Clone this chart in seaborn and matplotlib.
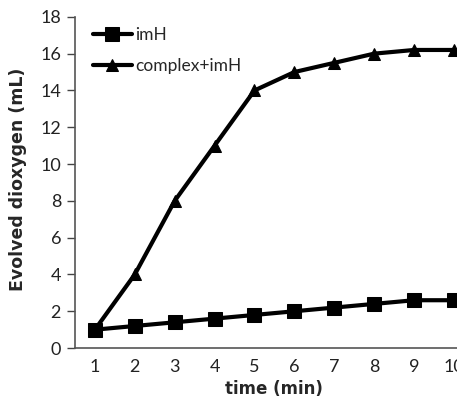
import matplotlib
matplotlib.use("Agg")
import matplotlib.pyplot as plt
import seaborn as sns
import pandas as pd

time_min = [1, 2, 3, 4, 5, 6, 7, 8, 9, 10]
imH = [1.0, 1.2, 1.4, 1.6, 1.8, 2.0, 2.2, 2.4, 2.6, 2.6]
complex_imH = [1.0, 4.0, 8.0, 11.0, 14.0, 15.0, 15.5, 16.0, 16.2, 16.2]
series_names = ["imH", "complex+imH"]
y_ticks = [0, 2, 4, 6, 8, 10, 12, 14, 16, 18]

df = pd.DataFrame({
    "time": time_min * 2,
    "value": imH + complex_imH,
    "series": [series_names[0]] * len(time_min) + [series_names[1]] * len(time_min),
})

sns.set_style("white")
plt.rcParams["font.family"] = ["Lato", "DejaVu Sans"]

fig = plt.figure(figsize=(4.57, 4.01), dpi=100)
ax = fig.add_axes([0.164, 0.132, 0.873, 0.826])

sns.lineplot(data=df, x="time", y="value", hue="series", style="series",
             markers={"imH": "s", "complex+imH": "^"}, dashes=False,
             palette={"imH": "black", "complex+imH": "black"},
             linewidth=3.0, markersize=10, markeredgecolor="black", ax=ax)
for line in ax.lines:
    if line.get_marker() == "^":
        line.set_markersize(8.5)

ax.set_xlim(0.5, 10.5)
ax.set_ylim(0, 18)
ax.set_xticks(time_min)
ax.set_yticks(y_ticks)
ax.tick_params(axis="y", direction="out", length=6, width=1, colors="#444444",
               labelsize=13, labelcolor="#222222", left=True, pad=4)
ax.tick_params(axis="x", length=0, labelsize=13, labelcolor="#222222", pad=8)
for s in ["top", "right"]:
    ax.spines[s].set_visible(False)
for s in ["left", "bottom"]:
    ax.spines[s].set_color("#555555")
    ax.spines[s].set_linewidth(1.2)

ax.set_ylabel("Evolved dioxygen (mL)", fontsize=12.5, fontweight="bold",
              family=["DejaVu Sans"])
ax.yaxis.set_label_coords(-0.12, 0.51)
ax.set_xlabel("time (min)", fontsize=12, fontweight="bold",
              family=["DejaVu Sans"])
ax.xaxis.set_label_coords(0.5, -0.095)

leg = ax.legend(loc="upper left", bbox_to_anchor=(0.02, 1.0), frameon=False,
                fontsize=12.5, handlelength=2.2, handletextpad=0.2,
                labelspacing=0.85, borderaxespad=0.2)
for h in leg.legend_handles:
    h.set_linewidth(3.0)

fig.savefig("out.png", dpi=100)
